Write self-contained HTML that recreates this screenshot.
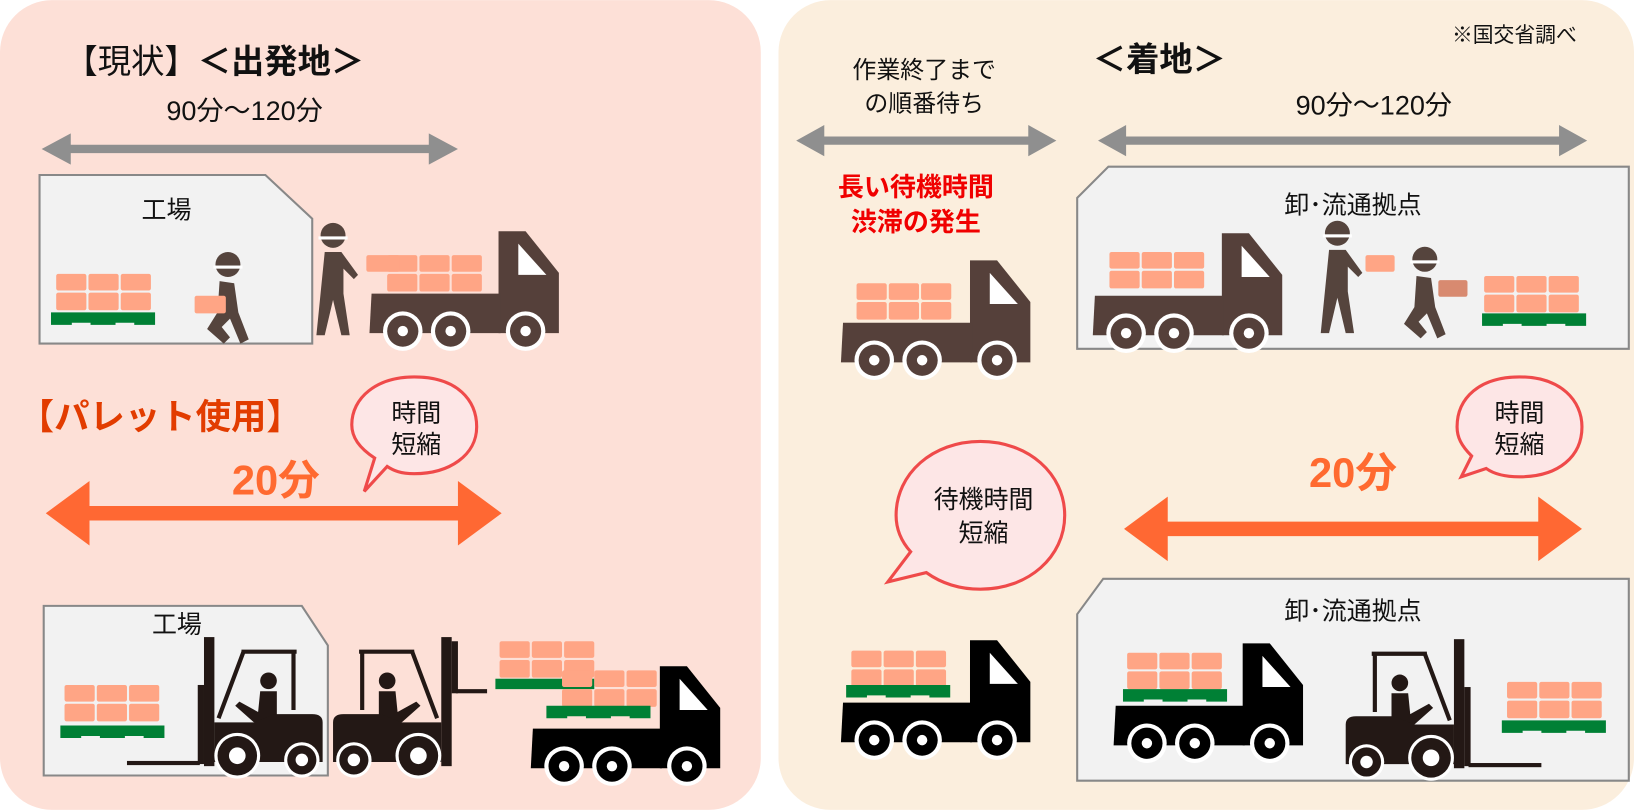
<!DOCTYPE html>
<html><head><meta charset="utf-8"><style>
html,body{margin:0;padding:0;background:#fff}
svg{display:block}
text{font-family:"Liberation Sans","Noto Sans CJK JP",sans-serif}
</style></head><body>
<svg width="1634" height="810" viewBox="0 0 1570 778" xmlns="http://www.w3.org/2000/svg">
<defs>
  <g id="boxes">
    <rect x="0" y="0" width="29" height="16" rx="2" fill="#ffa585"/>
    <rect x="31" y="0" width="29" height="16" rx="2" fill="#ffa585"/>
    <rect x="62" y="0" width="29" height="16" rx="2" fill="#ffa585"/>
    <rect x="0" y="18" width="29" height="17" rx="2" fill="#ffa585"/>
    <rect x="31" y="18" width="29" height="17" rx="2" fill="#ffa585"/>
    <rect x="62" y="18" width="29" height="17" rx="2" fill="#ffa585"/>
  </g>
  <g id="pallet">
    <path d="M0,0 H100 V12 H80 V10 H62 V12 H38 V10 H20 V12 H0 Z" fill="#008035"/>
  </g>
  <g id="truck">
    <path d="M124,0 H150 L182,40 V98 H124 Z" fill="currentColor"/>
    <path d="M143,12 V42 H170 Z" fill="#fff"/>
    <path d="M2,60 H126 V98 H0 Z" fill="currentColor"/>
    <g>
      <circle cx="32" cy="96" r="19" fill="#fff"/><circle cx="32" cy="96" r="15" fill="currentColor"/><circle cx="32" cy="96" r="5" fill="#fff"/>
      <circle cx="78" cy="96" r="19" fill="#fff"/><circle cx="78" cy="96" r="15" fill="currentColor"/><circle cx="78" cy="96" r="5" fill="#fff"/>
      <circle cx="150" cy="96" r="19" fill="#fff"/><circle cx="150" cy="96" r="15" fill="currentColor"/><circle cx="150" cy="96" r="5" fill="#fff"/>
    </g>
  </g>
  <g id="fork">
    <path d="M25,14 H78" stroke="#231815" stroke-width="4"/>
    <path d="M28,14 V70" stroke="#231815" stroke-width="4"/>
    <path d="M76,14 L100,78" stroke="#231815" stroke-width="4"/>
    <circle cx="52" cy="42" r="8" fill="#231815"/>
    <path d="M44,52 H60 L62,72 L80,62 L84,66 L66,82 H44 Z" fill="#231815"/>
    <path d="M0,82 Q0,74 10,74 H46 L66,82 H104 V120 H0 Z" fill="#231815"/>
    <rect x="104" y="0" width="10" height="124" fill="#231815"/>
    <rect x="114" y="46" width="6" height="76" fill="#231815"/>
    <rect x="118" y="119" width="70" height="4" fill="#231815"/>
    <circle cx="20" cy="118" r="17" fill="#fff"/><circle cx="20" cy="118" r="14" fill="#231815"/><circle cx="20" cy="118" r="6" fill="#fff"/>
    <circle cx="82" cy="114" r="22" fill="#fff"/><circle cx="82" cy="114" r="19" fill="#231815"/><circle cx="82" cy="114" r="8" fill="#fff"/>
  </g>
  <g id="fork2">
    <path d="M25,14 H78" stroke="#231815" stroke-width="4"/>
    <path d="M28,14 V70" stroke="#231815" stroke-width="4"/>
    <path d="M76,14 L100,78" stroke="#231815" stroke-width="4"/>
    <circle cx="52" cy="42" r="8" fill="#231815"/>
    <path d="M44,52 H60 L62,72 L80,62 L84,66 L66,82 H44 Z" fill="#231815"/>
    <path d="M0,82 Q0,74 10,74 H46 L66,82 H104 V120 H0 Z" fill="#231815"/>
    <rect x="104" y="0" width="10" height="124" fill="#231815"/>
    <rect x="114" y="4" width="6" height="50" fill="#231815"/>
    <rect x="118" y="50" width="30" height="4" fill="#231815"/>
    <circle cx="20" cy="118" r="17" fill="#fff"/><circle cx="20" cy="118" r="14" fill="#231815"/><circle cx="20" cy="118" r="6" fill="#fff"/>
    <circle cx="82" cy="114" r="22" fill="#fff"/><circle cx="82" cy="114" r="19" fill="#231815"/><circle cx="82" cy="114" r="8" fill="#fff"/>
  </g>
  <g id="worker" fill="#55443d">
    <circle cx="20" cy="14" r="12"/>
    <rect x="6" y="15" width="28" height="3" fill="#fff"/>
    <path d="M12,30 H28 L44,52 L40,56 L30,46 L30,70 L36,110 H28 L20,76 L12,110 H4 L8,70 Z"/>
  </g>
  <g id="walker" fill="#55443d">
    <circle cx="24" cy="14" r="12"/>
    <rect x="10" y="15" width="28" height="3" fill="#fff"/>
    <path d="M16,30 L30,32 L34,60 L44,86 L36,90 L26,66 L18,74 L26,84 L20,90 L4,76 L14,60 Z"/>
  </g>
</defs>

<!-- panels -->
<rect x="0" y="0" width="731" height="778" rx="50" fill="#fde0d7"/>
<rect x="748" y="0" width="822" height="778" rx="50" fill="#fbeedd"/>

<!-- LEFT TOP -->
<text x="62" y="70" font-size="32" fill="#111">【現状】<tspan font-weight="bold">＜出発地＞</tspan></text>
<text x="235" y="115" font-size="26" fill="#111" text-anchor="middle">90分～120分</text>
<path d="M40,143 L68,128 V139 H412 V128 L440,143 L412,158 V147 H68 V158 Z" fill="#8f8f8f"/>
<path d="M38,168 H255 L300,210 V330 H38 Z" fill="#f2f2f2" stroke="#888" stroke-width="2"/>
<text x="160" y="210" font-size="24" fill="#111" text-anchor="middle">工場</text>
<use href="#boxes" x="54" y="263"/>
<use href="#pallet" x="49" y="300"/>
<use href="#walker" x="195" y="240"/>
<rect x="187" y="284" width="30" height="17" rx="2" fill="#ffa585"/>
<use href="#worker" x="300" y="212"/>
<use href="#truck" x="355" y="222" style="color:#55403a"/>
<use href="#boxes" x="372" y="245"/>
<rect x="352" y="245" width="32" height="16" rx="2" fill="#ffa585"/>

<!-- LEFT BOTTOM -->
<text x="18" y="412" font-size="34" font-weight="bold" fill="#e23c00">【パレット使用】</text>
<path d="M398,362 C440,362 458,385 458,410 C458,437 432,455 398,455 C385,455 378,452 372,448 L350,472 L360,440 C345,430 338,420 338,408 C338,382 362,362 398,362 Z" fill="#fde6e6" stroke="#ef4a4a" stroke-width="3"/>
<text x="400" y="405" font-size="24" fill="#111" text-anchor="middle">時間</text>
<text x="400" y="435" font-size="24" fill="#111" text-anchor="middle">短縮</text>
<text x="265" y="475" font-size="40" font-weight="bold" fill="#ff6a30" text-anchor="middle">20分</text>
<path d="M44,493 L86,462 V486 H440 V462 L482,493 L440,524 V500 H86 V524 Z" fill="#ff6833"/>
<path d="M42,582 H290 L315,620 V745 H42 Z" fill="#f2f2f2" stroke="#888" stroke-width="2"/>
<text x="170" y="608" font-size="24" fill="#111" text-anchor="middle">工場</text>
<use href="#boxes" x="62" y="658"/>
<use href="#pallet" x="58" y="697"/>
<g transform="translate(310,612) scale(-1,1)"><use href="#fork"/></g>
<use href="#fork2" x="320" y="612"/>
<use href="#truck" x="510" y="640" style="color:#000"/>
<use href="#boxes" x="480" y="616"/>
<rect x="476" y="652" width="95" height="10" fill="#008035"/>
<use href="#boxes" x="540" y="644"/>
<use href="#pallet" x="525" y="678"/>

<!-- RIGHT TOP -->
<text x="1515" y="40" font-size="20" fill="#111" text-anchor="end">※国交省調べ</text>
<text x="1050" y="68" font-size="32" font-weight="bold" fill="#111">＜着地＞</text>
<text x="888" y="75" font-size="23" fill="#111" text-anchor="middle">作業終了まで</text>
<text x="888" y="107" font-size="23" fill="#111" text-anchor="middle">の順番待ち</text>
<path d="M765,135 L792,120 V131 H988 V120 L1015,135 L988,150 V139 H792 V150 Z" fill="#8f8f8f"/>
<text x="1320" y="110" font-size="26" fill="#111" text-anchor="middle">90分～120分</text>
<path d="M1055,135 L1082,120 V131 H1498 V120 L1525,135 L1498,150 V139 H1082 V150 Z" fill="#8f8f8f"/>
<text x="880" y="188" font-size="25" font-weight="bold" fill="#f00000" text-anchor="middle">長い待機時間</text>
<text x="880" y="222" font-size="25" font-weight="bold" fill="#f00000" text-anchor="middle">渋滞の発生</text>
<use href="#truck" x="808" y="250" style="color:#55403a"/>
<use href="#boxes" x="823" y="272"/>
<path d="M1035,190 L1065,160 H1565 V335 H1035 Z" fill="#f2f2f2" stroke="#888" stroke-width="2"/>
<text x="1300" y="205" font-size="24" fill="#111" text-anchor="middle">卸･流通拠点</text>
<use href="#truck" x="1050" y="224" style="color:#55403a"/>
<use href="#boxes" x="1066" y="242"/>
<use href="#worker" x="1265" y="210"/>
<rect x="1312" y="245" width="28" height="16" rx="2" fill="#ffa585"/>
<use href="#walker" x="1345" y="235"/>
<rect x="1382" y="269" width="28" height="16" rx="2" fill="#d88a70"/>
<use href="#boxes" x="1426" y="265"/>
<use href="#pallet" x="1424" y="301"/>

<!-- RIGHT BOTTOM -->
<path d="M1460,362 C1500,362 1520,385 1520,410 C1520,438 1498,458 1460,458 C1445,458 1435,455 1428,450 L1404,458 L1414,438 C1404,428 1400,420 1400,410 C1400,382 1422,362 1460,362 Z" fill="#fde6e6" stroke="#ef4a4a" stroke-width="3"/>
<text x="1460" y="405" font-size="24" fill="#111" text-anchor="middle">時間</text>
<text x="1460" y="435" font-size="24" fill="#111" text-anchor="middle">短縮</text>
<text x="1300" y="468" font-size="40" font-weight="bold" fill="#ff6a30" text-anchor="middle">20分</text>
<path d="M1080,508 L1122,477 V501 H1478 V477 L1520,508 L1478,539 V515 H1122 V539 Z" fill="#ff6833"/>
<path d="M942,424 C988,424 1023,455 1023,495 C1023,535 988,566 942,566 C922,566 904,560 890,550 L853,559 L875,530 C866,520 861,508 861,495 C861,455 896,424 942,424 Z" fill="#fde6e6" stroke="#ef4a4a" stroke-width="3"/>
<text x="945" y="488" font-size="24" fill="#111" text-anchor="middle">待機時間</text>
<text x="945" y="520" font-size="24" fill="#111" text-anchor="middle">短縮</text>
<use href="#truck" x="808" y="615" style="color:#000"/>
<use href="#boxes" x="818" y="625"/>
<use href="#pallet" x="813" y="658"/>
<path d="M1035,590 L1060,556 H1565 V750 H1035 Z" fill="#f2f2f2" stroke="#888" stroke-width="2"/>
<text x="1300" y="595" font-size="24" fill="#111" text-anchor="middle">卸･流通拠点</text>
<use href="#truck" x="1070" y="618" style="color:#000"/>
<use href="#boxes" x="1083" y="627"/>
<use href="#pallet" x="1079" y="662"/>
<use href="#fork" x="1293" y="614"/>
<use href="#boxes" x="1448" y="655"/>
<use href="#pallet" x="1443" y="692"/>
</svg>
</body></html>
